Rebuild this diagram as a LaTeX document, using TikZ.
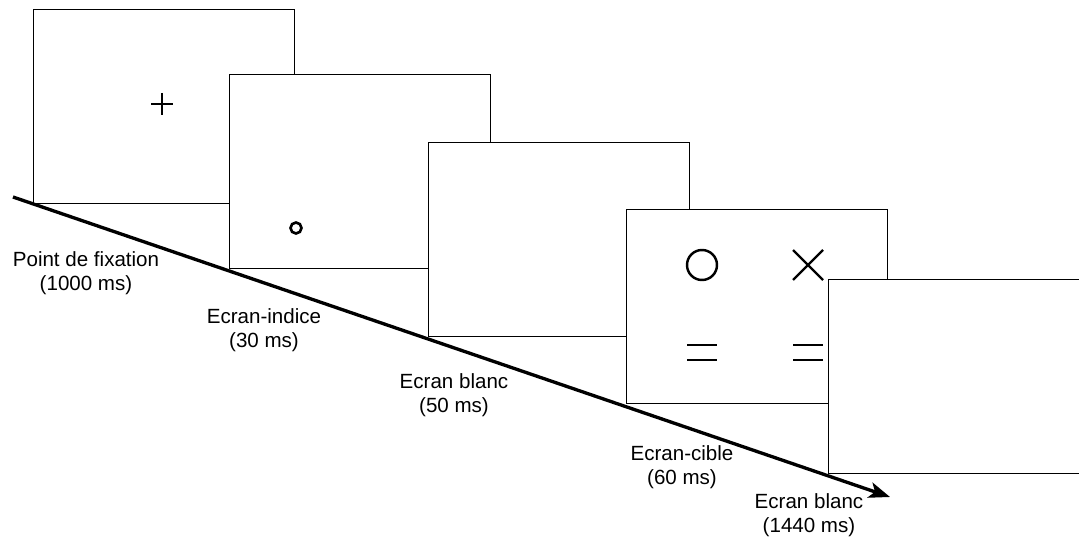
\documentclass[tikz,border=0pt]{standalone}
\usepackage{fontspec}
\setmainfont{Liberation Sans}
\usetikzlibrary{arrows.meta}

\tikzset{
  ecran/.style={draw,fill=white,line width=0.6pt,inner sep=0pt,anchor=north west,
    minimum width=5.22cm,minimum height=3.88cm},
  etiquette/.style={align=center,font=\fontsize{11.7}{13.6}\selectfont},
  signe/.style={line width=1.4pt}
}

\begin{document}
\begin{tikzpicture}[x=0.02cm,y=-0.02cm]
\useasboundingbox (0,0) rectangle (1079,537);
\begin{scope}
\clip (0,0) rectangle (1079,537);
% ecrans
\node[ecran,line width=0.8pt] (fixation) at (33,9) {};
\node[ecran] (indice) at (229,74) {};
\node[ecran] (blanc) at (428,142) {};
\node[ecran] (cible) at (626,209) {};
\node[ecran] (fin) at (828,279) {};
\end{scope}

% contenu des ecrans
\draw[signe] (151,104) -- (173,104);
\draw[signe] (162,93) -- (162,115);
\draw[signe,line width=1.5pt] (296,228) circle[radius=0.11cm];
\draw[signe] (702,265) circle[radius=0.3cm];
\draw[signe] (793,250) -- (823,280);
\draw[signe] (793,280) -- (823,250);
\draw[signe,line width=1.7pt] (687,345) -- (717,345);
\draw[signe,line width=1.7pt] (687,360) -- (717,360);
\draw[signe,line width=1.7pt] (793,345) -- (823,345);
\draw[signe,line width=1.7pt] (793,360) -- (823,360);

% axe du temps
\coordinate (debut) at (13,197);
\coordinate (finaxe) at (890,497);
\draw[line width=1.9pt,-{Stealth[length=12pt,width=9pt,inset=3pt]}] (debut) -- (finaxe);

% etiquettes
\node[etiquette] (t1) at (86,273) {Point de fixation\\(1000 ms)};
\node[etiquette] (t2) at (264,330) {Ecran-indice\\(30 ms)};
\node[etiquette] (t3) at (454,395) {Ecran blanc\\(50 ms)};
\node[etiquette] (t4) at (682,467) {Ecran-cible\\(60 ms)};
\node[etiquette] (t5) at (809,515) {Ecran blanc\\(1440 ms)};
\end{tikzpicture}
\end{document}
